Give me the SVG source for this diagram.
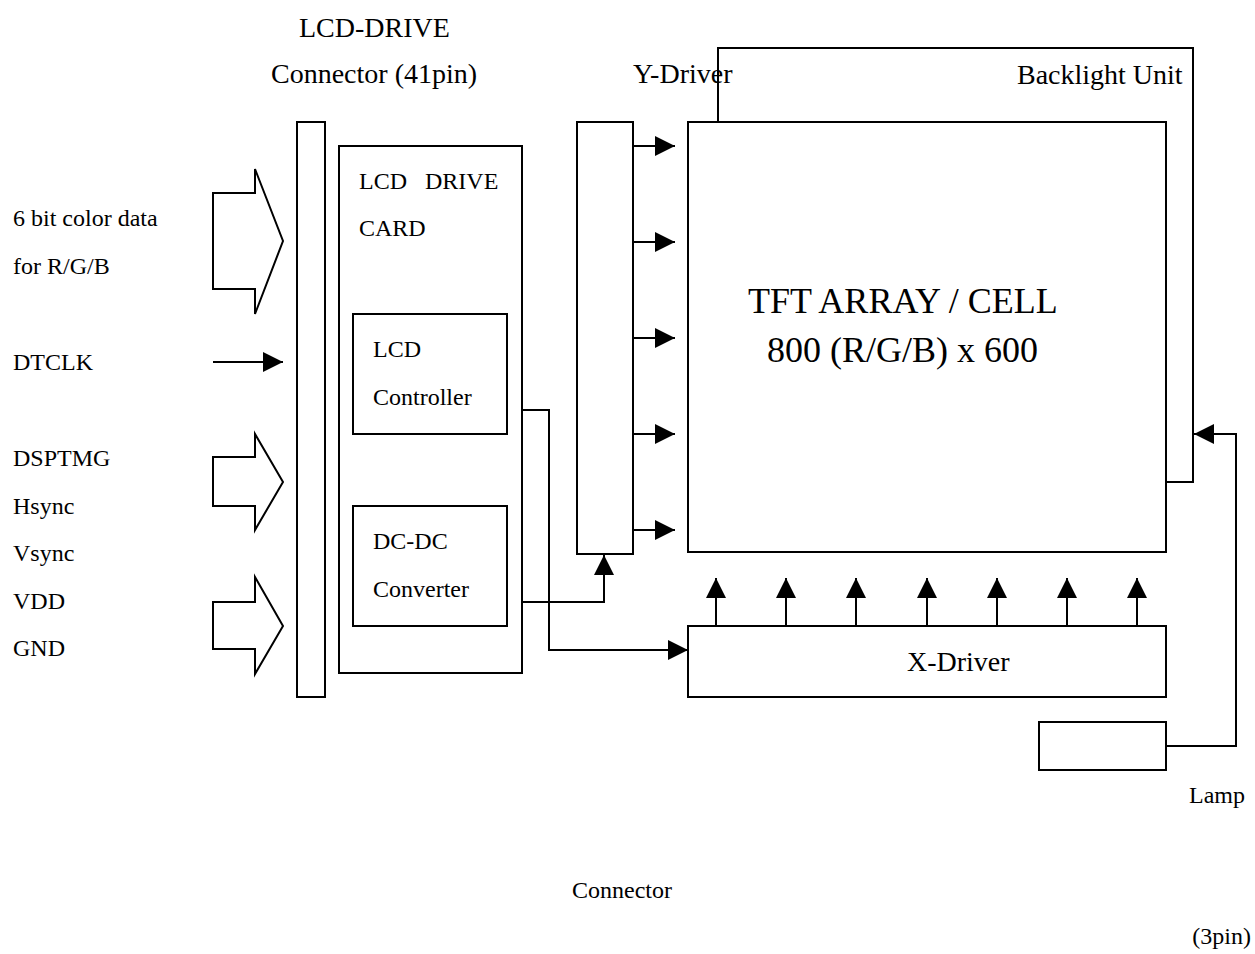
<svg xmlns="http://www.w3.org/2000/svg" width="1255" height="954" viewBox="0 0 1255 954">
<style>
.b{fill:#fff;stroke:#000;stroke-width:2}
.l{fill:none;stroke:#000;stroke-width:2}
.t{font-family:"Liberation Serif","Times New Roman",serif;fill:#000;font-size:24px}
.m{font-size:28px}
.g{font-size:36px}
</style>
<defs>
<marker id="ah" markerUnits="userSpaceOnUse" markerWidth="20" markerHeight="20" refX="20" refY="10" orient="auto" viewBox="0 0 20 20">
<path d="M0,0 L20,10 L0,20 z" fill="#000"/>
</marker>
</defs>
<rect width="1255" height="954" fill="#fff"/>

<g id="labels-top">
<text class="t m" x="299" y="37">LCD-DRIVE</text>
<text class="t m" x="271" y="83">Connector (41pin)</text>
<text class="t m" x="633" y="83">Y-Driver</text>
</g>

<g id="backlight">
<polyline class="l" points="718,122 718,48 1193,48 1193,482 1166,482"/>
<text class="t m" x="1017" y="84">Backlight Unit</text>
</g>

<g id="inputs">
<text class="t" x="13" y="226">6 bit color data</text>
<text class="t" x="13" y="274">for R/G/B</text>
<text class="t" x="13" y="370">DTCLK</text>
<text class="t" x="13" y="466">DSPTMG</text>
<text class="t" x="13" y="514">Hsync</text>
<text class="t" x="13" y="561">Vsync</text>
<text class="t" x="13" y="609">VDD</text>
<text class="t" x="13" y="656">GND</text>
<polygon class="b" points="213,193 255,193 255,169 283,241 255,314 255,289 213,289"/>
<polygon class="b" points="213,457 255,457 255,434 283,482 255,530 255,506 213,506"/>
<polygon class="b" points="213,602 255,602 255,577 283,626 255,674 255,649 213,649"/>
</g>

<g id="connector41">
<rect class="b" x="297" y="122" width="28" height="575"/>
</g>

<g id="drive-card">
<rect class="b" x="339" y="146" width="183" height="527"/>
<text class="t" x="359" y="189" xml:space="preserve">LCD   DRIVE</text>
<text class="t" x="359" y="236">CARD</text>
</g>

<g id="controller">
<rect class="b" x="353" y="314" width="154" height="120"/>
<text class="t" x="373" y="357">LCD</text>
<text class="t" x="373" y="405">Controller</text>
</g>

<g id="dcdc">
<rect class="b" x="353" y="506" width="154" height="120"/>
<text class="t" x="373" y="549">DC-DC</text>
<text class="t" x="373" y="597">Converter</text>
</g>

<g id="y-driver">
<rect class="b" x="577" y="122" width="56" height="432"/>
</g>

<g id="tft">
<rect class="b" x="688" y="122" width="478" height="430"/>
<text class="t g" x="748" y="313">TFT ARRAY / CELL</text>
<text class="t g" x="767" y="362">800 (R/G/B) x 600</text>
</g>

<g id="x-driver">
<rect class="b" x="688" y="626" width="478" height="71"/>
<text class="t m" x="907" y="671">X-Driver</text>
</g>

<g id="lamp">
<rect class="b" x="1039" y="722" width="127" height="48"/>
<text class="t" x="1189" y="803">Lamp</text>
</g>

<g id="bottom-labels">
<text class="t" x="572" y="898">Connector</text>
<text class="t" x="1251" y="944" text-anchor="end">(3pin)</text>
</g>

<g id="connectors">
<line class="l" x1="213" y1="362" x2="283" y2="362" marker-end="url(#ah)"/>
<line class="l" x1="633" y1="146" x2="675" y2="146" marker-end="url(#ah)"/>
<line class="l" x1="633" y1="242" x2="675" y2="242" marker-end="url(#ah)"/>
<line class="l" x1="633" y1="338" x2="675" y2="338" marker-end="url(#ah)"/>
<line class="l" x1="633" y1="434" x2="675" y2="434" marker-end="url(#ah)"/>
<line class="l" x1="633" y1="530" x2="675" y2="530" marker-end="url(#ah)"/>
<line class="l" x1="716" y1="626" x2="716" y2="578" marker-end="url(#ah)"/>
<line class="l" x1="786" y1="626" x2="786" y2="578" marker-end="url(#ah)"/>
<line class="l" x1="856" y1="626" x2="856" y2="578" marker-end="url(#ah)"/>
<line class="l" x1="927" y1="626" x2="927" y2="578" marker-end="url(#ah)"/>
<line class="l" x1="997" y1="626" x2="997" y2="578" marker-end="url(#ah)"/>
<line class="l" x1="1067" y1="626" x2="1067" y2="578" marker-end="url(#ah)"/>
<line class="l" x1="1137" y1="626" x2="1137" y2="578" marker-end="url(#ah)"/>
<polyline class="l" points="522,602 604,602 604,555" marker-end="url(#ah)"/>
<polyline class="l" points="522,410 549,410 549,650 688,650" marker-end="url(#ah)"/>
<polyline class="l" points="1166,746 1236,746 1236,434 1194,434" marker-end="url(#ah)"/>
</g>
</svg>
